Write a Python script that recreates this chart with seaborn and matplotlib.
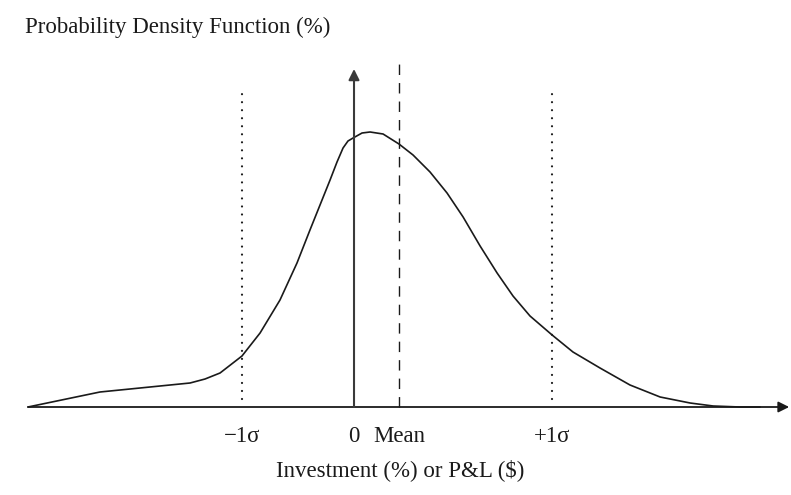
import numpy as np
import pandas as pd
import matplotlib
matplotlib.use("Agg")
import matplotlib.pyplot as plt
import seaborn as sns

# ── Data (x in sigma units from the origin, y in % density) ─────────────────
curve_x = [-2.110, -1.644, -1.320, -1.061, -0.964, -0.867, -0.725, -0.608,
           -0.479, -0.369, -0.285, -0.220, -0.155, -0.110, -0.071, -0.039,
           -0.006, 0.052, 0.104, 0.188, 0.291, 0.382, 0.492, 0.602,
           0.706, 0.816, 0.926, 1.029, 1.139, 1.282, 1.417, 1.592,
           1.786, 1.981, 2.175, 2.324, 2.498, 2.628]
curve_y = [0.0, 3.0, 4.0, 4.8, 5.6, 6.8, 10.2, 14.8,
           21.4, 28.8, 35.4, 40.4, 45.4, 49.0, 51.8, 53.2,
           53.8, 54.8, 55.0, 54.6, 52.6, 50.4, 47.0, 42.8,
           38.0, 32.2, 26.8, 22.2, 18.2, 14.4, 11.0, 7.8,
           4.4, 2.0, 0.8, 0.2, 0.0, 0.0]

mean_x = 0.291
minus_sigma_x = -0.725
plus_sigma_x = 1.282
tick_pos = [minus_sigma_x, 0.0, mean_x, plus_sigma_x]
tick_labels = ["\u22121\u03c3", "0", "Mean", "+1\u03c3"]

title_text = "Probability Density Function (%)"
xlabel_text = "Investment (%) or P&L ($)"

df = pd.DataFrame({"x": curve_x, "y": curve_y})

# ── Style ───────────────────────────────────────────────────────────────────
sns.set_style("white")
plt.rcParams["font.family"] = ["Liberation Serif", "DejaVu Serif"]
FS = 16.5
INK = "#1a1a1a"

fig = plt.figure(figsize=(7.91, 4.95), dpi=100)
ax = fig.add_axes([0, 0, 1, 1])
ax.set_xlim(-2.291, 2.828)
ax.set_ylim(-17.6, 81.4)
ax.axis("off")

# density curve
sns.lineplot(data=df, x="x", y="y", ax=ax, color=INK, linewidth=1.2,
             sort=False, estimator=None)

# horizontal axis with arrow
ax.annotate("", xy=(2.816, 0), xytext=(curve_x[0], 0),
            arrowprops=dict(arrowstyle="-|>", color=INK, lw=1.3,
                            mutation_scale=16, shrinkA=0, shrinkB=0))
# vertical axis with arrow
ax.annotate("", xy=(0, 67.6), xytext=(0, 0),
            arrowprops=dict(arrowstyle="-|>", color="#3a3a3a", lw=1.5,
                            mutation_scale=16, shrinkA=0, shrinkB=0))

# mean (dashed)
ax.plot([mean_x, mean_x], [0, 68.6], color=INK, lw=1.0,
        linestyle=(0, (7.5, 5.8)))
# +/- sigma (dotted)
for sx, top in [(minus_sigma_x, 63.6), (plus_sigma_x, 63.0)]:
    ax.plot([sx, sx], [1.6, top], color=INK, lw=1.6,
            linestyle=(0, (0.01, 3.6)), dash_capstyle="round",
            solid_capstyle="round")

# tick labels
for pos, lab in zip(tick_pos, tick_labels):
    ax.text(pos, -6.0, lab, ha="center", va="center", fontsize=FS, color=INK)

fig.text(400 / 791, 1 - 470 / 495, xlabel_text, ha="center", va="center",
         fontsize=FS, color=INK)
fig.text(25 / 791, 1 - 27 / 495, title_text, ha="left", va="center",
         fontsize=FS, color=INK)

fig.savefig("out.png", dpi=100)
plt.close(fig)
